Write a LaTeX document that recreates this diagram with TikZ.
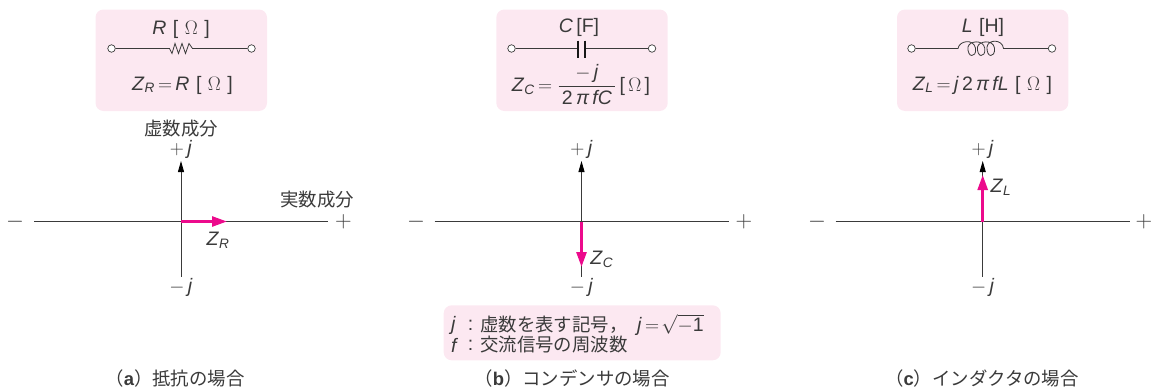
\documentclass[tikz,border=0pt]{standalone}
\usepackage{fix-cm}
\usepackage{amsmath,amssymb}
\usepackage{fontspec}
\setmainfont{Liberation Sans}
\newfontfamily\jpfont{Noto Sans CJK JP}
\usepackage{tikz}
\usetikzlibrary{arrows.meta}
\definecolor{boxpink}{HTML}{FCE8F1}
\definecolor{vecpink}{HTML}{EC0A8C}
\definecolor{inkgray}{HTML}{3A3A3A}
\newcommand{\iv}[1]{\textit{#1}}
\newcommand{\ohm}{[\,\,$\Omega$\,\,]}
\newcommand{\capfont}[1]{{\bfseries\fontspec{Liberation Sans}#1}}
\tikzset{
  panel/.style={fill=boxpink, rounded corners=8pt},
  label/.style={inner sep=0pt, text=inkgray, font=\fontsize{19.5}{22}\selectfont},
  sign/.style={inner sep=0pt, text=inkgray, font=\fontsize{23}{23}\selectfont},
  jplabel/.style={inner sep=0pt, text=inkgray, font=\fontsize{18.4}{20}\selectfont\jpfont},
  wire/.style={draw=inkgray, line width=0.8pt},
  terminal/.style={circle, draw=inkgray, fill=white, line width=0.7pt, inner sep=0pt, minimum size=7.5pt},
  axis/.style={draw=inkgray, line width=0.9pt},
  axisarrow/.style={draw=inkgray, line width=0.9pt, -{Triangle[black,length=11pt,width=6pt]}},
  vec/.style={draw=vecpink, line width=2.6pt, -{Triangle[length=15pt,width=10pt]}}
}
\begin{document}
\begin{tikzpicture}[x=1pt,y=-1pt]
  \useasboundingbox (0,0) rectangle (1151,388);

  \fill[panel] (95.5,9.5) rectangle (267,111);
  \fill[panel] (496.3,9.5) rectangle (667.7,111);
  \fill[panel] (897,9.5) rectangle (1068.3,111);
  \fill[panel] (443.7,305.3) rectangle (720.7,360.3);

  \node[label] (rtitle) at (181,29.5) {\iv{R}\,\,\ohm};
  \node[terminal] (ra) at (111.5,48.5) {};
  \node[terminal] (rb) at (251.5,48.5) {};
  \coordinate (rl) at (169.5,48.5);
  \coordinate (rr) at (192.5,48.5);
  \draw[wire] (ra) -- (rl) -- (172,53.5) -- (175,43.5) -- (178.5,53.5) -- (182,43.5) -- (185.5,53.5) -- (189,43.5) -- (rr) -- (rb);
  \node[label] (rformula) at (182.5,85) {\iv{Z}$_{\iv{R}}$\,$=$\,\iv{R}\,\,\ohm};

  \node[label] (ctitle) at (579,27) {\iv{C}\,[F]};
  \node[terminal] (ca) at (511.5,48.5) {};
  \node[terminal] (cb) at (652,48.5) {};
  \coordinate (cl) at (578.3,48.5);
  \coordinate (cr) at (585.3,48.5);
  \draw[wire] (ca) -- (cl);
  \draw[wire] (cr) -- (cb);
  \draw[inkgray!40!black, line width=2pt] (578.3,40.5) -- (578.3,57.5);
  \draw[inkgray!40!black, line width=2pt] (585.3,40.5) -- (585.3,57.5);
  \node[label] (cformula) at (581,84.5) {\iv{Z}$_{\iv{C}}$\,$=\dfrac{-\text{\,\iv{j}}}{\text{\,2\,\iv{π\,fC}\,}}$\,[\,$\Omega$\,]};

  \node[label] (ltitle) at (983,27) {\iv{L}\,\,[H]};
  \node[terminal] (la) at (911.5,48.5) {};
  \node[terminal] (lb) at (1052,48.5) {};
  \coordinate (ll) at (958,48.5);
  \coordinate (lr) at (1003.5,48.5);
  \draw[wire] (la) -- (ll)
    .. controls (959,41) and (973,38) .. (975.5,48)
    .. controls (976.5,54) and (973.5,55.5) .. (971.7,55.5)
    .. controls (969.5,55.5) and (967.5,52) .. (968,47)
    .. controls (969,41) and (983,39) .. (984.7,48)
    .. controls (985.5,54) and (983,55.5) .. (981,55.5)
    .. controls (979,55.5) and (977,52) .. (977.5,47)
    .. controls (978.5,41) and (993,39) .. (994.5,48)
    .. controls (995,54) and (992.5,55.5) .. (990.7,55.5)
    .. controls (988.5,55.5) and (986.7,52) .. (987,47)
    .. controls (988,39) and (1002.5,39) .. (lr) -- (lb);
  \node[label] (lformula) at (982.5,85) {\iv{Z}$_{\iv{L}}$\,$=$\,\iv{j}\,2\,\iv{π\,fL}\,\,\ohm};

  \coordinate (ao) at (181,221.5);
  \coordinate (al) at (34,221.5);
  \coordinate (ar) at (328,221.5);
  \coordinate (at) at (181,161);
  \coordinate (ab) at (181,277);
  \coordinate (avec) at (227,221.5);
  \draw[axis] (al) -- (ar);
  \draw[axis] (ao) -- (ab);
  \draw[axisarrow] (ao) -- (at);
  \draw[vec] (ao) -- (avec);
  \node[jplabel] (aimag) at (181,129) {虚数成分};
  \node[jplabel] (areal) at (317,200) {実数成分};
  \node[label] (aplusj) at (181,149) {$+$\,\iv{j}};
  \node[label] (aminusj) at (181,287) {$-$\,\iv{j}};
  \node[sign] (aminus) at (15,221.5) {$-$};
  \node[sign] (aplus) at (343.5,221.5) {$+$};
  \node[label] (azr) at (218,240) {\iv{Z}$_{\iv{R}}$};
  \node[jplabel] (acap) at (175,379) {（\capfont{a}）抵抗の場合};

  \coordinate (bo) at (581.5,221.5);
  \coordinate (bl) at (434.5,221.5);
  \coordinate (br) at (729,221.5);
  \coordinate (bt) at (581.5,161);
  \coordinate (bb) at (581.5,277);
  \coordinate (bvec) at (581.5,267);
  \draw[axis] (bl) -- (br);
  \draw[axis] (bo) -- (bb);
  \draw[axisarrow] (bo) -- (bt);
  \draw[vec] (bo) -- (bvec);
  \node[label] (bplusj) at (581.5,149) {$+$\,\iv{j}};
  \node[label] (bminusj) at (581.5,287) {$-$\,\iv{j}};
  \node[sign] (bminus) at (416,221.5) {$-$};
  \node[sign] (bplus) at (744,221.5) {$+$};
  \node[label] (bzc) at (601.7,259) {\iv{Z}$_{\iv{C}}$};
  \node[label, anchor=west] (nj) at (451,325) {\iv{j}};
  \node[label] (njc) at (470.5,325) {:};
  \node[jplabel, anchor=west] (njtext) at (480,325) {虚数を表す記号，};
  \node[label, anchor=west] (nroot) at (637,325) {\iv{j}\,$=\!\sqrt{-\text{1}}$};
  \node[label, anchor=west] (nf) at (451,345) {\iv{f}};
  \node[label] (nfc) at (470.5,345) {:};
  \node[jplabel, anchor=west] (nftext) at (480,345) {交流信号の周波数};
  \node[jplabel] (bcap) at (572,379) {（\capfont{b}）コンデンサの場合};

  \coordinate (co) at (982.7,221.5);
  \coordinate (cl2) at (835.5,221.5);
  \coordinate (cr2) at (1130,221.5);
  \coordinate (ct) at (982.7,161);
  \coordinate (cb2) at (982.7,277);
  \coordinate (cvec) at (982.7,175);
  \draw[axis] (cl2) -- (cr2);
  \draw[axis] (co) -- (cb2);
  \draw[axisarrow] (co) -- (ct);
  \draw[vec] (co) -- (cvec);
  \node[label] (cplusj) at (982.7,149) {$+$\,\iv{j}};
  \node[label] (cminusj) at (982.7,287) {$-$\,\iv{j}};
  \node[sign] (cminus) at (817,221.5) {$-$};
  \node[sign] (cplus) at (1144,221.5) {$+$};
  \node[label] (czl) at (1001,187) {\iv{Z}$_{\iv{L}}$};
  \node[jplabel] (ccap) at (982,379) {（\capfont{c}）インダクタの場合};
\end{tikzpicture}
\end{document}
